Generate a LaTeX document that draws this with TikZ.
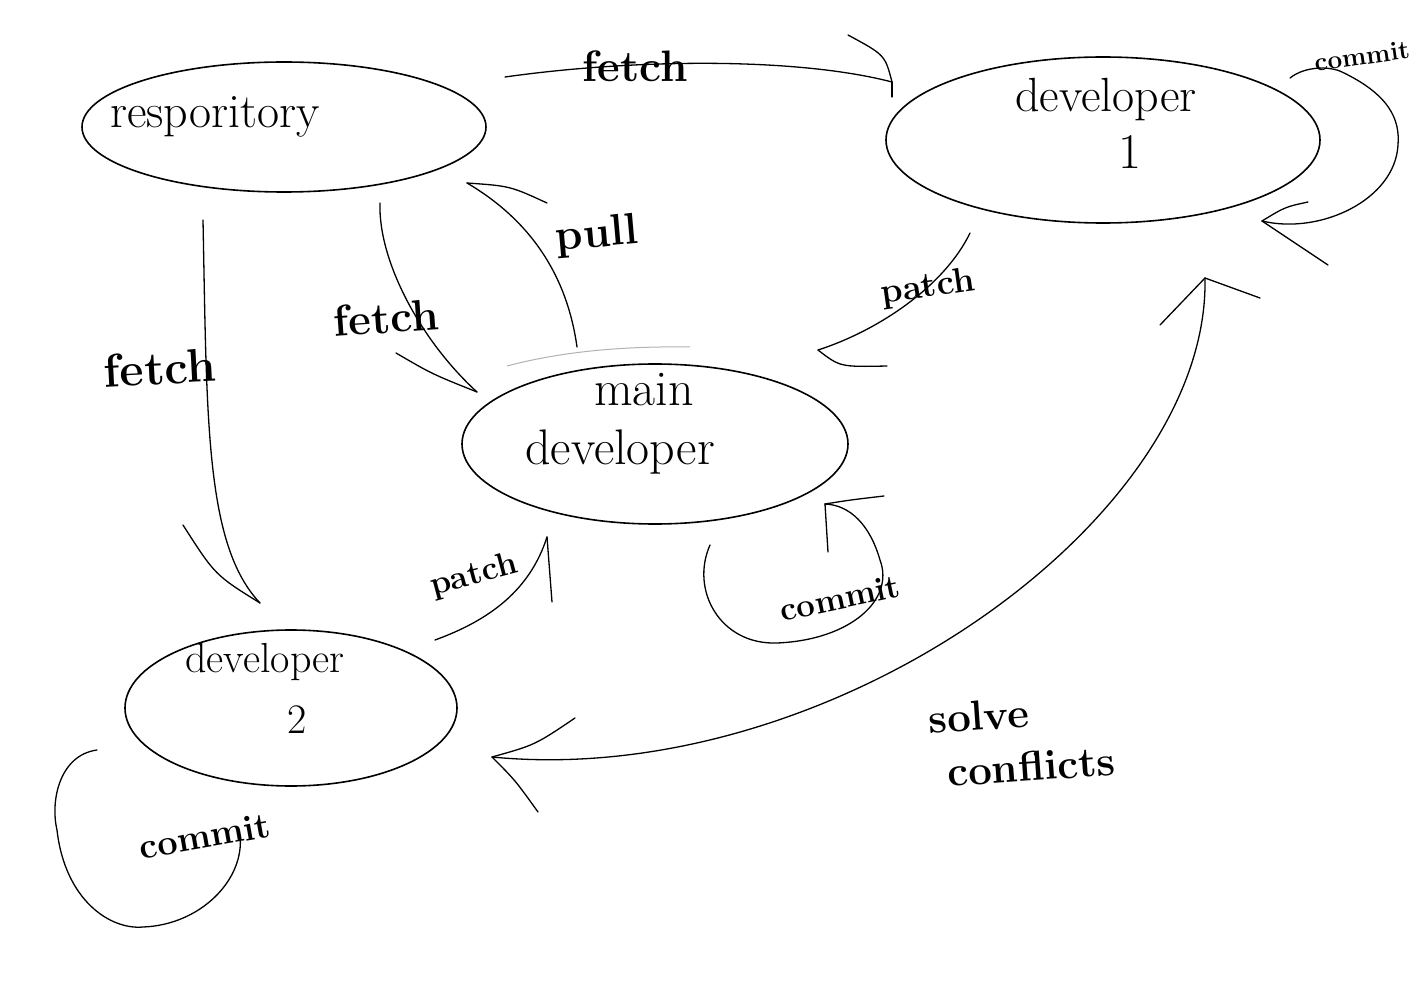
\documentclass[tikz,border=0pt]{standalone}
\usepackage{fontspec}
\usetikzlibrary{shapes.geometric}
\tikzset{
  bubble/.style={ellipse, draw, line width=1.6pt, inner sep=0pt},
  conn/.style={line width=1.3pt, line cap=round},
  barb/.style={line width=1.3pt, line cap=round},
  nodetext/.style={font=\fontsize{50}{56}\selectfont, inner sep=0pt},
  edgetext/.style={font=\bfseries\fontsize{44}{48}\selectfont, inner sep=0pt},
}
\begin{document}
\begin{tikzpicture}[x=1pt,y=-1pt]
\useasboundingbox (0,0) rectangle (1417,992);
\fill[white] (0,0) rectangle (1417,992);

% nodes (ellipses)
\node[bubble, minimum width=404pt, minimum height=130pt] (repo) at (284,127) {};
\node[bubble, minimum width=434pt, minimum height=166pt] (dev1) at (1103,140) {};
\node[bubble, minimum width=386pt, minimum height=160pt] (main) at (655,444) {};
\node[bubble, minimum width=332pt, minimum height=156pt] (dev2) at (291,708) {};

% node texts
\node[nodetext, font=\fontsize{48}{54}\selectfont] (repot) at (215,117) {resporitory};
\node[nodetext, font=\fontsize{48}{54}\selectfont] (dev1t) at (1106,100) {developer};
\node[nodetext] (dev1n) at (1130,152) {1};
\node[nodetext] (maint) at (644,390) {main};
\node[nodetext] (maindt) at (620,452) {developer};
\node[nodetext, font=\fontsize{42}{48}\selectfont] (dev2t) at (265,662) {developer};
\node[nodetext, font=\fontsize{42}{48}\selectfont] (dev2n) at (297,720) {2};

% faint extra stroke above main developer
\draw[gray!60, line width=1pt] (507,366) .. controls (560,352) and (620,346) .. (690,347);

% connector end points
\coordinate (ftA) at (505,77);   \coordinate (ftB) at (892,82);
\coordinate (c1A) at (1290,78);  \coordinate (c1B) at (1262,221);
\coordinate (fmA) at (380,203);  \coordinate (fmB) at (477,392);
\coordinate (plA) at (577,347);  \coordinate (plB) at (467,183);
\coordinate (prA) at (970,233);  \coordinate (prB) at (818,350);
\coordinate (cmA) at (710,545);  \coordinate (cmB) at (825,504);
\coordinate (pqA) at (435,640);  \coordinate (pqB) at (547,537);
\coordinate (flA) at (203,220);  \coordinate (flB) at (260,603);
\coordinate (c2A) at (97,750);   \coordinate (c2B) at (240,835);
\coordinate (scA) at (492,757);  \coordinate (scB) at (1205,278);

% fetch: repository -> developer 1
\draw[conn] (ftA) .. controls (640,58) and (800,58) .. (ftB);
\draw[barb] (ftB) .. controls (885,55) .. (848,35);
\draw[barb] (ftB) -- (892,97);
\node[edgetext] (lfetch1) at (635,66) {fetch};

% commit loop on developer 1
\draw[conn] (c1A) .. controls (1305,66) and (1330,66) .. (1342,72)
  .. controls (1390,95) and (1400,120) .. (1398,145)
  .. controls (1395,200) and (1320,235) .. (c1B);
\draw[barb] (c1B) .. controls (1285,207) .. (1308,202);
\draw[barb] (c1B) -- (1328,265);
\node[edgetext, font=\bfseries\fontsize{26}{30}\selectfont, rotate=8] (lcommit1) at (1362,56) {commit};

% fetch: repository -> main developer
\draw[conn] (fmA) .. controls (378,260) and (420,340) .. (fmB);
\draw[barb] (fmB) .. controls (432,374) .. (396,353);
\node[edgetext, rotate=4] (lfetch2) at (386,318) {fetch};

% pull: main developer -> repository
\draw[conn] (plA) .. controls (567,275) and (530,220) .. (plB);
\draw[barb] (plB) .. controls (510,186) .. (547,203);
\node[edgetext, rotate=5] (lpull) at (597,236) {pull};

% patch: developer 1 -> main developer
\draw[conn] (prA) .. controls (945,285) and (880,330) .. (prB);
\draw[barb] (prB) .. controls (840,367) .. (887,366);
\node[edgetext, font=\bfseries\fontsize{35}{40}\selectfont, rotate=8] (lpatch1) at (928,288) {patch};

% commit loop on main developer
\draw[conn] (cmA) .. controls (690,590) and (720,645) .. (777,643)
  .. controls (850,640) and (895,600) .. (880,560)
  .. controls (870,525) and (850,505) .. (cmB);
\draw[barb] (cmB) .. controls (850,500) .. (884,496);
\draw[barb] (cmB) -- (828,552);
\node[edgetext, font=\bfseries\fontsize{33}{38}\selectfont, rotate=12] (lcommitm) at (840,598) {commit};

% patch: developer 2 -> main developer
\draw[conn] (pqA) .. controls (490,620) and (530,590) .. (pqB);
\draw[barb] (pqB) -- (552,602);
\node[edgetext, font=\bfseries\fontsize{33}{38}\selectfont, rotate=15] (lpatch2) at (474,576) {patch};

% fetch: repository -> developer 2
\draw[conn] (flA) .. controls (207,420) and (205,545) .. (flB);
\draw[barb] (flB) .. controls (215,575) .. (183,525);
\node[edgetext, font=\bfseries\fontsize{47}{50}\selectfont, rotate=3] (lfetch3) at (160,368) {fetch};

% commit loop on developer 2
\draw[conn] (c2A) .. controls (60,755) and (50,800) .. (57,830)
  .. controls (65,900) and (110,930) .. (143,927)
  .. controls (200,925) and (245,880) .. (c2B);
\node[edgetext, font=\bfseries\fontsize{36}{40}\selectfont, rotate=10] (lcommit2) at (205,836) {commit};

% solve conflicts: developer 2 <-> developer 1
\draw[conn] (scA) .. controls (830,790) and (1210,520) .. (scB);
\draw[barb] (scA) .. controls (535,745) .. (575,718);
\draw[barb] (scA) .. controls (515,780) .. (538,812);
\draw[barb] (scB) -- (1160,325);
\draw[barb] (scB) -- (1260,298);
\node[edgetext, align=left, font=\bfseries\fontsize{42}{54}\selectfont, rotate=4] (lsolve) at (1022,740) {solve\\\hspace*{15pt}conflicts};

\end{tikzpicture}
\end{document}
